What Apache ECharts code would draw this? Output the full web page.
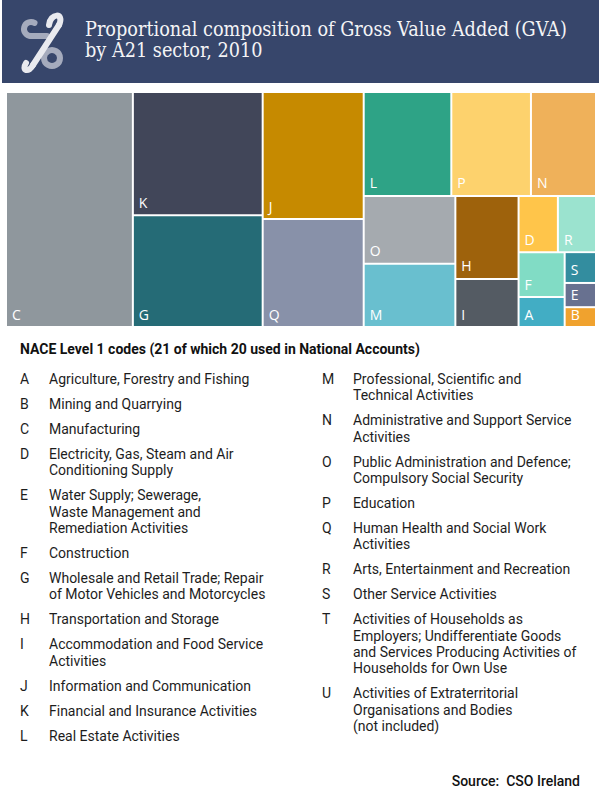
<!DOCTYPE html>
<html>
<head>
<meta charset="utf-8">
<script src="https://cdn.jsdelivr.net/npm/echarts@6/dist/echarts.min.js"></script>
<style>
html,body{margin:0;padding:0;background:#fff;}
#chart{width:601px;height:800px;}
</style>
</head>
<body>
<div id="chart"></div>
<script>
// ---- data ----
const titleLines = ['Proportional composition of Gross Value Added (GVA)', 'by A21 sector, 2010'];
const sectorCodes = ['C','K','G','J','Q','L','P','N','O','M','H','I','D','R','F','A','S','E','B'];
const gvaShare    = [21.6,11.6,10.5,9.3,7.9,6.6,6.0,4.9,4.5,4.2,3.8,2.2,1.6,1.55,1.5,1.0,0.7,0.55,0.45];
const legendHeading = 'NACE Level 1 codes (21 of which 20 used in National Accounts)';
const leftCodes = ['A','B','C','D','E','F','G','H','I','J','K','L'];
const leftDescriptions = [
  'Agriculture, Forestry and Fishing',
  'Mining and Quarrying',
  'Manufacturing',
  'Electricity, Gas, Steam and Air\nConditioning Supply',
  'Water Supply; Sewerage,\nWaste Management and\nRemediation Activities',
  'Construction',
  'Wholesale and Retail Trade; Repair\nof Motor Vehicles and Motorcycles',
  'Transportation and Storage',
  'Accommodation and Food Service\nActivities',
  'Information and Communication',
  'Financial and Insurance Activities',
  'Real Estate Activities'
];
const rightCodes = ['M','N','O','P','Q','R','S','T','U'];
const rightDescriptions = [
  'Professional, Scientific and\nTechnical Activities',
  'Administrative and Support Service\nActivities',
  'Public Administration and Defence;\nCompulsory Social Security',
  'Education',
  'Human Health and Social Work\nActivities',
  'Arts, Entertainment and Recreation',
  'Other Service Activities',
  'Activities of Households as\nEmployers; Undifferentiate Goods\nand Services Producing Activities of\nHouseholds for Own Use',
  'Activities of Extraterritorial\nOrganisations and Bodies\n(not included)'
];
const sourceText = 'Source:  CSO Ireland';

// ---- styles ----
const sectorColors = {
  C:'#8F979D', K:'#414659', G:'#256B76', J:'#C68A00', Q:'#8891A9',
  L:'#2EA386', P:'#FDD26D', N:'#EFB15A', O:'#A5AAAF', M:'#69BFCF',
  H:'#9E620C', I:'#545B63', D:'#FFC54A', R:'#9BE3CF', F:'#81DCC5',
  A:'#42ADC4', S:'#338D9F', E:'#687190', B:'#F0A22E'
};

const chart = echarts.init(document.getElementById('chart'), null, {renderer:'svg'});

// fit title font to reference width
const titleFamily = '"DejaVu Serif Condensed", "DejaVu Serif", serif';
const cv = document.createElement('canvas').getContext('2d');
cv.font = '20px ' + titleFamily;
const w20 = cv.measureText(titleLines[0]).width;
const titleSize = Math.min(21, 20 * 482 / w20);

const logoGray = {fill:'none', stroke:'#A5ABBD', lineWidth:6, lineCap:'round'};
const logoWhite = {fill:'none', stroke:'#E9EAEF', lineWidth:6, lineCap:'round'};

const graphics = [];
// banner
graphics.push({type:'rect', shape:{x:2, y:0, width:597, height:83}, style:{fill:'#37466B'}, z:1});
// logo
graphics.push({type:'arc', shape:{cx:31, cy:29, r:7, startAngle:-Math.PI/3, endAngle:Math.PI/2, clockwise:false}, style:logoGray, z:2});
graphics.push({type:'line', shape:{x1:31, y1:36, x2:47, y2:36}, style:logoGray, z:2});
graphics.push({type:'circle', shape:{cx:52, cy:58, r:8}, style:{fill:'none', stroke:'#A5ABBD', lineWidth:6}, z:2});
graphics.push({type:'bezierCurve', shape:{x1:49, y1:25, cpx1:50, cpy1:13, cpx2:65, cpy2:12, x2:59, y2:25}, style:logoWhite, z:3});
graphics.push({type:'line', shape:{x1:59, y1:25, x2:33, y2:65}, style:logoWhite, z:3});
graphics.push({type:'bezierCurve', shape:{x1:33, y1:65, cpx1:29, cpy1:73, cpx2:21, cpy2:71, x2:26, y2:63}, style:logoWhite, z:3});
// title
titleLines.forEach((t, i) => {
  graphics.push({type:'text', x:85, y:[36, 57][i] - 0.346 * titleSize, z:3,
    style:{text:t, fill:'#F4F4F6', font:'normal ' + titleSize.toFixed(2) + 'px ' + titleFamily, align:'left', verticalAlign:'middle'}});
});

// legend
const listFont = '14px Roboto, "Noto Sans", sans-serif';
const lh = 16.3;
function addColumn(codes, descs, xCode, xDesc, firstBaseline) {
  let b = firstBaseline;
  codes.forEach((c, i) => {
    const yTop = b - 4.8 - lh / 2;
    graphics.push({type:'text', x:xCode, y:yTop, style:{text:c, fill:'#1d1d1d', font:listFont, lineHeight:lh, align:'left', verticalAlign:'top'}});
    graphics.push({type:'text', x:xDesc, y:yTop, style:{text:descs[i], fill:'#1d1d1d', font:listFont, lineHeight:lh, align:'left', verticalAlign:'top'}});
    const n = descs[i].split('\n').length;
    b += 25 + lh * (n - 1);
  });
}
graphics.push({type:'text', x:20, y:354 - 4.8 - lh / 2, style:{text:legendHeading, fill:'#111', font:'bold 14px Roboto, "Noto Sans", sans-serif', lineHeight:lh, align:'left', verticalAlign:'top'}});
addColumn(leftCodes, leftDescriptions, 20, 49, 384);
addColumn(rightCodes, rightDescriptions, 322, 353, 384);
graphics.push({type:'text', x:580, y:786 - 4.8 - 8, style:{text:sourceText, fill:'#111', font:'500 14px Roboto, "Noto Sans", sans-serif', lineHeight:16, align:'right', verticalAlign:'top'}});

const treeData = sectorCodes.map((c, i) => ({name:c, value:gvaShare[i], itemStyle:{color:sectorColors[c]}}));

chart.setOption({
  backgroundColor:'#ffffff',
  animation:false,
  graphic:{elements:graphics},
  series:[{
    type:'treemap',
    left:7, top:93, width:588, height:233,
    roam:false, nodeClick:false,
    breadcrumb:{show:false},
    squareRatio:1,
    sort:'desc',
    visibleMin:1,
    levels:[{itemStyle:{gapWidth:2, borderWidth:0, borderColor:'#fff'}}],
    itemStyle:{borderWidth:0},
    label:{show:true, position:'insideBottomLeft', distance:5, padding:0, color:'#fff', fontFamily:'"Open Sans", sans-serif', fontSize:14, formatter:'{b}'},
    data:treeData
  }]
});
</script>
</body>
</html>
